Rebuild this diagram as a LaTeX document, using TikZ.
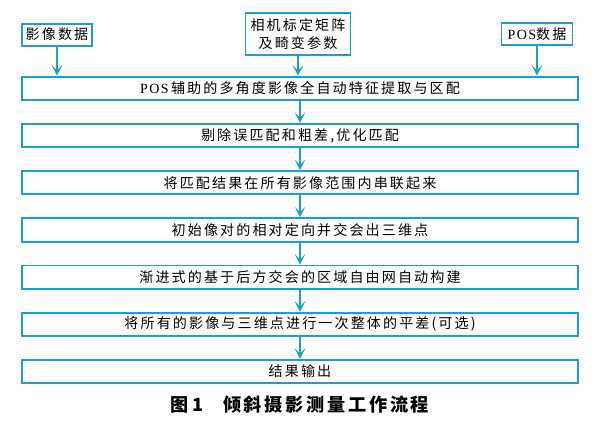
\documentclass[tikz,border=0pt]{standalone}
\usepackage{fontspec}
\setmainfont{Liberation Serif}[LetterSpace=10]
\newfontfamily\cjk{Noto Sans CJK SC}[LetterSpace=15]
\usetikzlibrary{arrows.meta, positioning}
\definecolor{FlowBlue}{RGB}{ 30, 158, 208}
\tikzset{
  % Input data box at the top
  inbox/.style={
    rectangle, draw=FlowBlue, line width=1.6pt, fill=white,
    font=\cjk\fontsize{12}{15}\selectfont, text=black,
    inner sep=2pt, minimum height=0.66cm, align=center
  },
  % Processing step (full width)
  stepbox/.style={
    rectangle, draw=FlowBlue, line width=1.6pt, fill=white,
    font=\cjk\fontsize{12}{14}\selectfont, text=black,
    minimum width=16.66cm, minimum height=0.7cm, inner sep=2pt
  },
  % Flow arrows
  flowarrow/.style={
    -{Stealth[length=9pt, width=9pt, inset=4.5pt]}, line width=1.4pt, draw=FlowBlue
  }
}

\begin{document}
\begin{tikzpicture}[node distance=0.66cm]
  \useasboundingbox (0,0) rectangle (17.94,-12.9);

  % ── INPUTS ────────────────────────────────────────────────────────────
  \node[inbox, minimum width=2.1cm]  (img)  at (1.71,-1.04)  {影像数据};
  \node[inbox, minimum width=3.15cm, minimum height=1.26cm] (cam) at (8.94,-1.02)
        {相机标定矩阵\\及畸变参数};
  \node[inbox, minimum width=2.13cm] (pos)  at (16.11,-1.02) {{\rmfamily POS}数据};

  % ── PROCESSING STEPS ──────────────────────────────────────────────────
  \node[stepbox] (s1) at (9.0,-2.65)
        {{\rmfamily POS}\,辅助的多角度影像全自动特征提取与区配};
  \node[stepbox, below=of s1] (s2) {剔除误匹配和粗差,优化匹配};
  \node[stepbox, below=of s2] (s3) {将匹配结果在所有影像范围内串联起来};
  \node[stepbox, below=of s3] (s4) {初始像对的相对定向并交会出三维点};
  \node[stepbox, below=of s4] (s5) {渐进式的基于后方交会的区域自由网自动构建};
  \node[stepbox, below=of s5] (s6) {将所有的影像与三维点进行一次整体的平差(可选)};
  \node[stepbox, below=of s6] (s7) {结果输出};

  % ── ARROWS ────────────────────────────────────────────────────────────
  \draw[flowarrow] (img) -- (img |- s1.north);
  \draw[flowarrow] (cam) -- (cam |- s1.north);
  \draw[flowarrow] (pos) -- (pos |- s1.north);
  \foreach \a/\b in {s1/s2, s2/s3, s3/s4, s4/s5, s5/s6, s6/s7}
    \draw[flowarrow] (\a) -- (\b);

  % ── CAPTION ───────────────────────────────────────────────────────────
  \node[font=\cjk\bfseries\fontsize{15.5}{18}\selectfont, below=0.24cm of s7] (cap)
        {图\,1\hspace{1.1em}倾斜摄影测量工作流程};
\end{tikzpicture}
\end{document}
